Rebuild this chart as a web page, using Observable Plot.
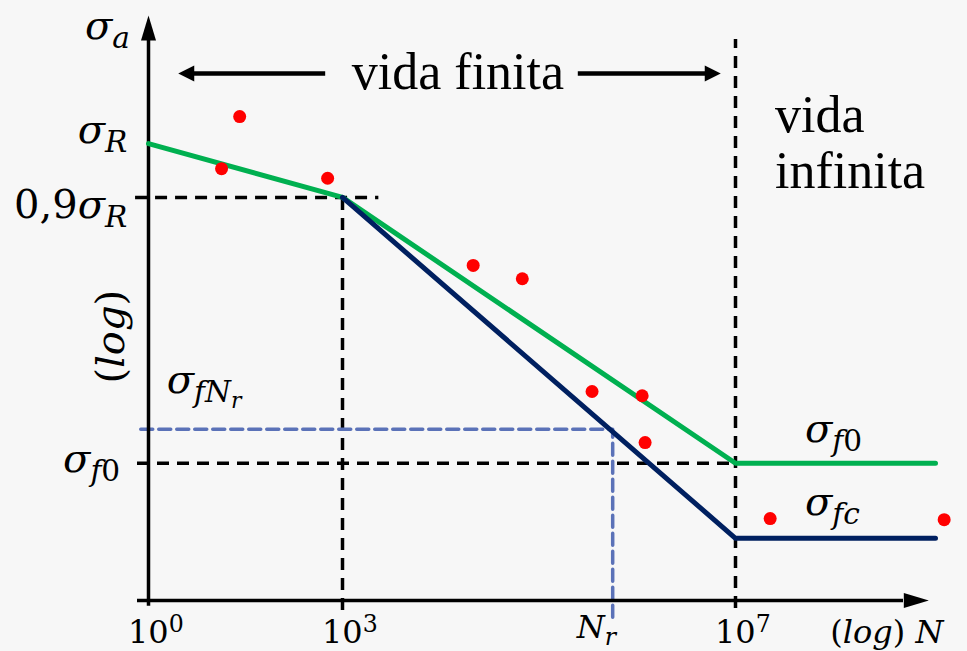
<!DOCTYPE html>
<html><head><meta charset="utf-8">
<script src="https://cdn.jsdelivr.net/npm/d3@7"></script>
<script src="https://cdn.jsdelivr.net/npm/@observablehq/plot@0.6"></script>
<style>html,body{margin:0;padding:0;background:#f7f7f7;} #chart{width:967px;height:651px;}</style>
</head><body><div id="chart"></div>
<script>
// Schematic S-N (Wöhler) diagram. x = schematic log10(N) (axis not to scale), y = schematic log(σa)
const xDomain = [0, 3, 7, 10];
const Nr = 5.75;
const sigmaR = 8.59, sigma09R = 7.58, sigmaFNr = 3.22, sigmaF0 = 2.58, sigmaFc = 1.17;

const greenX = [0, 3, 7, 10];
const greenY = [sigmaR, sigma09R, sigmaF0, sigmaF0];
const navyX = [3, 7, 10];
const navyY = [sigma09R, sigmaFc, sigmaFc];
const testX = [1.13, 1.41, 2.77, 4.33, 4.83, 5.54, 6.05, 6.08, 7.52, 10.13];
const testY = [8.12, 9.10, 7.94, 6.30, 6.05, 3.93, 3.85, 2.97, 1.54, 1.52];

// guide lines
const guideH = [{y: sigma09R, x1: -0.2, x2: 3.37}, {y: sigmaF0, x1: -0.17, x2: 7.3}];
const guideV = [{x: 3, y1: -0.19, y2: sigma09R}, {x: 7, y1: -0.15, y2: 10.55}];
const nrGuide = [{x: -0.12, y: sigmaFNr}, {x: Nr, y: sigmaFNr}, {x: Nr, y: -0.41}];

// axes and arrows
const axisTopY = 11.0, axisRightX = 9.9;
const finiteArrowY = 9.91;
const finiteSegments = [{x1: 0.70, x2: 2.74}, {x1: 5.40, x2: 6.70}];
const longHeads = [{x: 0, y: axisTopY, rot: 0}, {x: axisRightX, y: 0, rot: 90}];
const shortHeads = [{x: 0.46, y: finiteArrowY, rot: -90}, {x: 6.85, y: finiteArrowY, rot: 90}];

// labels (text, position in data units, anchor)
const yLabels = [
  {text: "σ_{a}", x: -0.28, y: 10.55, anchor: "end"},
  {text: "σ_{R}", x: -0.32, y: 8.59, anchor: "end"},
  {text: "0,9σ_{R}", x: -0.32, y: 7.18, anchor: "end"},
  {text: "σ_{f0}", x: -0.43, y: 2.41, anchor: "end"},
  {text: "σ_{fN_{r}}", x: 0.29, y: 3.89, anchor: "start"},
  {text: "σ_{f0}", x: 8.05, y: 2.97, anchor: "start"},
  {text: "σ_{fc}", x: 8.05, y: 1.60, anchor: "start"},
  {text: "(log)", x: -0.37, y: 4.95, anchor: "middle", rotate: -90, size: 40}
];
const xLabels = [
  {text: "10^{0}", x: 0, y: -0.81, anchor: "start", dx: -20},
  {text: "10^{3}", x: 3, y: -0.81, anchor: "start", dx: -20},
  {text: "N_{r}", x: Nr, y: -0.72, anchor: "end", dx: 4},
  {text: "10^{7}", x: 7, y: -0.81, anchor: "start", dx: -20},
  {text: "(log) N", x: 8.43, y: -0.81, anchor: "start"}
];
const plainLabels = [
  {text: "vida finita", x: 4.18, y: 9.61, anchor: "middle"},
  {text: "vida", x: 7.60, y: 8.80, anchor: "start"},
  {text: "infinita", x: 7.60, y: 7.75, anchor: "start"}
];

function parseMath(str, size, math) {
  const out = []; const stack = [{size, shift: 0}];
  let buf = "", bufIt = false;
  const top = () => stack[stack.length - 1];
  const flush = () => { if (buf) out.push({text: buf, size: top().size, shift: top().shift, italic: bufIt}); buf = ""; };
  for (let i = 0; i < str.length; i++) {
    const c = str[i];
    if ((c === "_" || c === "^") && str[i + 1] === "{") {
      flush();
      const p = top();
      stack.push({size: p.size * 0.74, shift: p.shift + (c === "_" ? 0.22 : -0.36) * p.size});
      i++;
    } else if (c === "}") { flush(); stack.pop(); }
    else {
      const it = math && /[A-Za-z\u03b1-\u03c9]/.test(c);
      if (buf && it !== bufIt) flush();
      bufIt = it; buf += c;
    }
  }
  flush();
  return out;
}

function richText(labels, {font, size, math}) {
  return (index, scales) => {
    const ns = "http://www.w3.org/2000/svg";
    const g = document.createElementNS(ns, "g");
    for (const d of labels) {
      const t = document.createElementNS(ns, "text");
      const fs = d.size || size;
      const px = scales.x(d.x) + (d.dx || 0), py = scales.y(d.y);
      t.setAttribute("text-anchor", d.anchor || "start");
      t.setAttribute("font-family", font);
      t.setAttribute("font-size", fs);
      t.setAttribute("fill", "black");
      if (d.rotate) t.setAttribute("transform", `translate(${px},${py}) rotate(${d.rotate})`);
      else { t.setAttribute("x", px); t.setAttribute("y", py); }
      let cur = 0;
      for (const s of parseMath(d.text, fs, math)) {
        const ts = document.createElementNS(ns, "tspan");
        ts.setAttribute("font-size", s.size);
        if (s.italic) ts.setAttribute("font-style", "italic");
        if (s.shift !== cur) { ts.setAttribute("dy", s.shift - cur); cur = s.shift; }
        ts.textContent = s.text;
        t.appendChild(ts);
      }
      g.appendChild(t);
    }
    return g;
  };
}

function arrowHead(len, half) {
  return {draw(ctx) { ctx.moveTo(0, 0); ctx.lineTo(-half, len); ctx.lineTo(half, len); ctx.closePath(); }};
}

const green = greenX.map((x, i) => ({x, y: greenY[i]}));
const navy = navyX.map((x, i) => ({x, y: navyY[i]}));
const tests = testX.map((x, i) => ({x, y: testY[i]}));

const chart = Plot.plot({
  width: 967, height: 651, margin: 0,
  style: {background: "#f7f7f7"},
  x: {type: "linear", domain: xDomain, range: [148, 342, 735, 935], axis: null},
  y: {type: "linear", domain: [0, 11], range: [600, 15], axis: null},
  marks: [
    Plot.ruleY(guideH, {y: "y", x1: "x1", x2: "x2", stroke: "black", strokeWidth: 3.5, strokeDasharray: "12,8"}),
    Plot.ruleX(guideV, {x: "x", y1: "y1", y2: "y2", stroke: "black", strokeWidth: 3.5, strokeDasharray: "12,8"}),
    Plot.line(nrGuide, {x: "x", y: "y", stroke: "#5b72b8", strokeWidth: 3.5, strokeDasharray: "12,6"}),
    Plot.ruleX([0], {y1: -0.11, y2: 10.55, stroke: "black", strokeWidth: 3.5}),
    Plot.ruleY([0], {x1: -0.17, x2: 9.52, stroke: "black", strokeWidth: 3.5}),
    Plot.dot(longHeads, {x: "x", y: "y", rotate: "rot", symbol: arrowHead(25, 7.5), r: 5, fill: "black", stroke: "none"}),
    Plot.ruleY(finiteSegments, {y: finiteArrowY, x1: "x1", x2: "x2", stroke: "black", strokeWidth: 4.5}),
    Plot.dot(shortHeads, {x: "x", y: "y", rotate: "rot", symbol: arrowHead(16, 8), r: 5, fill: "black", stroke: "none"}),
    Plot.line(green, {x: "x", y: "y", stroke: "#00b050", strokeWidth: 5}),
    Plot.line(navy, {x: "x", y: "y", stroke: "#002060", strokeWidth: 5}),
    Plot.dot(tests, {x: "x", y: "y", r: 6.5, fill: "#ff0000", stroke: "none"}),
    richText(yLabels, {font: "DejaVu Serif", size: 40, math: true}),
    richText(xLabels, {font: "DejaVu Serif", size: 32, math: true}),
    richText(plainLabels, {font: "Liberation Serif", size: 52, math: false})
  ]
});
document.getElementById("chart").appendChild(chart);
</script>
</body></html>
